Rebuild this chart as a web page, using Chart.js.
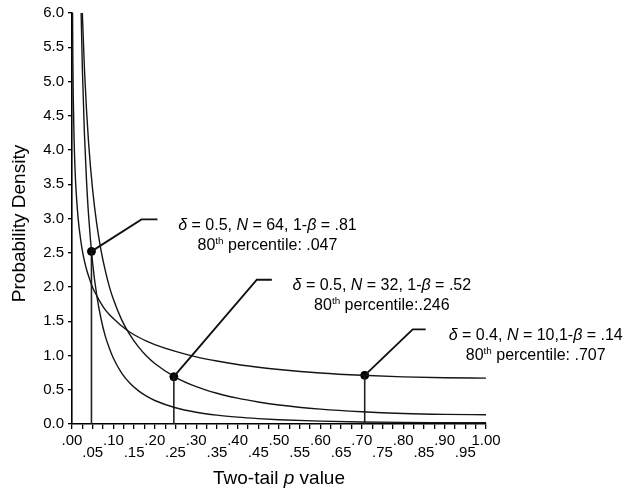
<!DOCTYPE html>
<html>
<head>
<meta charset="utf-8">
<script src="https://cdn.jsdelivr.net/npm/chart.js@4/dist/chart.umd.min.js"></script>
<style>
  html, body { margin: 0; padding: 0; background: #fff; }
</style>
</head>
<body>
<canvas id="chart" width="630" height="494"></canvas>
<script>
// two-tail p values at which each density curve is sampled
const pValues = [0.001, 0.002, 0.003, 0.005, 0.0075, 0.01, 0.015, 0.02, 0.025, 0.03, 0.035, 0.04,
  0.05, 0.06, 0.07, 0.08, 0.09, 0.10, 0.12, 0.14, 0.16, 0.18, 0.20, 0.25, 0.30, 0.35, 0.40,
  0.45, 0.50, 0.60, 0.70, 0.80, 0.90, 1.00];

// density of p for each design (off the top of the axis where null)
const densityN64 = [null, null, null, null, null, 13.36, 8.90, 6.59, 5.19, 4.24, 3.56, 3.05,
  2.34, 1.87, 1.54, 1.29, 1.11, 0.96, 0.744, 0.595, 0.487, 0.406, 0.343, 0.237, 0.172, 0.129, 0.100,
  0.079, 0.063, 0.042, 0.030, 0.023, 0.020, 0.018];
const densityN32 = [null, null, null, 18.6, 14.2, 11.69, 8.77, 7.10, 5.99, 5.19, 4.59, 4.11,
  3.41, 2.91, 2.54, 2.25, 2.01, 1.82, 1.52, 1.30, 1.13, 0.993, 0.884, 0.682, 0.546, 0.449, 0.377,
  0.322, 0.278, 0.217, 0.178, 0.153, 0.140, 0.135];
const densityN10 = [6.38, 5.34, 4.79, 4.16, 3.69, 3.39, 2.99, 2.73, 2.53, 2.38, 2.26, 2.16,
  1.99, 1.87, 1.76, 1.67, 1.60, 1.54, 1.43, 1.34, 1.27, 1.21, 1.16, 1.06, 0.980, 0.919, 0.869,
  0.829, 0.796, 0.745, 0.711, 0.688, 0.675, 0.670];

// the three labelled designs
const effectSizes = [0.5, 0.5, 0.4];
const sampleSizes = [64, 32, 10];
const powers = [0.81, 0.52, 0.14];
const percentile80 = [0.047, 0.246, 0.707];
const densityAtPercentile = [2.52, 0.69, 0.71];

const xTickLabels = ['.00', '.05', '.10', '.15', '.20', '.25', '.30', '.35', '.40', '.45', '.50',
  '.55', '.60', '.65', '.70', '.75', '.80', '.85', '.90', '.95', '1.00'];
const yTickLabels = ['0.0', '0.5', '1.0', '1.5', '2.0', '2.5', '3.0', '3.5', '4.0', '4.5', '5.0',
  '5.5', '6.0'];

// leader line shape (pixels from the marker) and text spacing for each label
const leaders = [
  { elbow: [50, -32], arm: 16, sepN: ', ', sepP: ' ' },
  { elbow: [83, -97], arm: 15, sepN: ', ', sepP: '' },
  { elbow: [48, -46], arm: 13, sepN: ',', sepP: ' ' }
];

const FONT = '"Liberation Sans", Arial, Helvetica, sans-serif';
Chart.defaults.font.family = FONT;
Chart.defaults.color = '#000';

const fmt = (v, d) => v.toFixed(d).replace(/^0\./, '.');

function curve(values) {
  return pValues.map((p, i) => ({ x: p, y: values[i] }));
}

// draws a centred line of text made of plain / italic / superscript pieces
function drawRuns(ctx, runs, cx, baseline, size) {
  const pieces = runs.map(r => {
    const s = r.sup ? size * 0.62 : size;
    const font = (r.italic ? 'italic ' : '') + s + 'px ' + FONT;
    ctx.font = font;
    return { text: r.text, sup: r.sup, font, w: ctx.measureText(r.text).width };
  });
  const total = pieces.reduce((a, p) => a + p.w, 0);
  let x = cx - total / 2;
  ctx.textAlign = 'left';
  ctx.textBaseline = 'alphabetic';
  for (const p of pieces) {
    ctx.font = p.font;
    ctx.fillText(p.text, x, p.sup ? baseline - size * 0.38 : baseline);
    x += p.w;
  }
}

const annotations = {
  id: 'annotations',
  afterDatasetsDraw(chart) {
    const { ctx, chartArea: area, scales: { x, y } } = chart;
    ctx.save();
    ctx.fillStyle = '#000';
    ctx.strokeStyle = '#111';
    ctx.lineWidth = 1.9;
    percentile80.forEach((p, i) => {
      const px = x.getPixelForValue(p);
      const py = y.getPixelForValue(densityAtPercentile[i]);
      const l = leaders[i];
      const ex = px + l.elbow[0];
      const ey = py + l.elbow[1];
      ctx.beginPath();
      ctx.moveTo(px, py);
      ctx.lineTo(ex, ey);
      ctx.lineTo(ex + l.arm, ey);
      ctx.stroke();

      const cx = ex + l.arm + 110;
      drawRuns(ctx, [
        { text: 'δ', italic: true },
        { text: ' = ' + effectSizes[i].toFixed(1) + ', ' },
        { text: 'N', italic: true },
        { text: ' = ' + sampleSizes[i] + l.sepN + '1-' },
        { text: 'β', italic: true },
        { text: ' = ' + fmt(powers[i], 2) }
      ], cx, ey + 10.3, 16);
      drawRuns(ctx, [
        { text: '80' },
        { text: 'th', sup: true },
        { text: ' percentile:' + l.sepP + fmt(p, 3) }
      ], cx, ey + 30.3, 16);
    });

    // axis titles
    drawRuns(ctx, [{ text: 'Two-tail ' }, { text: 'p', italic: true }, { text: ' value' }],
      (area.left + area.right) / 2, 484, 19);
    ctx.translate(25, (area.top + area.bottom) / 2 + 5);
    ctx.rotate(-Math.PI / 2);
    drawRuns(ctx, [{ text: 'Probability Density' }], 0, 0, 19);
    ctx.restore();
  }
};

const curveStyle = {
  borderColor: '#151515',
  borderWidth: 1.4,
  pointRadius: 0,
  cubicInterpolationMode: 'monotone',
  fill: false
};

const dropLines = percentile80.map((p, i) => ({
  data: [{ x: p, y: 0 }, { x: p, y: densityAtPercentile[i] }],
  borderColor: '#222',
  borderWidth: 1.6,
  pointRadius: 0
}));

new Chart(document.getElementById('chart'), {
  type: 'line',
  data: {
    datasets: [
      { ...curveStyle, data: curve(densityN64) },
      { ...curveStyle, data: curve(densityN32) },
      { ...curveStyle, data: curve(densityN10) },
      ...dropLines,
      {
        data: percentile80.map((p, i) => ({ x: p, y: densityAtPercentile[i] })),
        showLine: false,
        pointRadius: 4,
        pointBackgroundColor: '#000',
        pointBorderColor: '#000'
      }
    ]
  },
  options: {
    responsive: false,
    animation: false,
    layout: { padding: { top: 12, right: 144, left: 0, bottom: 0 } },
    plugins: { legend: { display: false }, tooltip: { enabled: false } },
    scales: {
      x: {
        type: 'linear',
        min: 0,
        max: 1,
        afterFit: s => { s.height = 70; },
        border: { color: '#000', width: 1.6 },
        grid: { drawOnChartArea: false, color: '#000', tickLength: 5, lineWidth: 1.3 },
        ticks: {
          stepSize: 0.025,
          autoSkip: false,
          maxRotation: 0,
          padding: 6,
          font: { size: 15, lineHeight: 0.8 },
          callback: v => {
            const i = Math.round(v * 40);
            if (i % 2) return '';
            const k = i / 2;
            return k % 2 ? ['', xTickLabels[k]] : xTickLabels[k];
          }
        }
      },
      y: {
        min: 0,
        max: 6,
        afterFit: s => { s.width = 72; },
        border: { color: '#000', width: 1.6 },
        grid: { drawOnChartArea: false, color: '#000', tickLength: 4, lineWidth: 1.3 },
        ticks: {
          stepSize: 0.5,
          padding: 4,
          font: { size: 15 },
          callback: v => yTickLabels[Math.round(v * 2)]
        }
      }
    }
  },
  plugins: [annotations]
});
</script>
</body>
</html>
